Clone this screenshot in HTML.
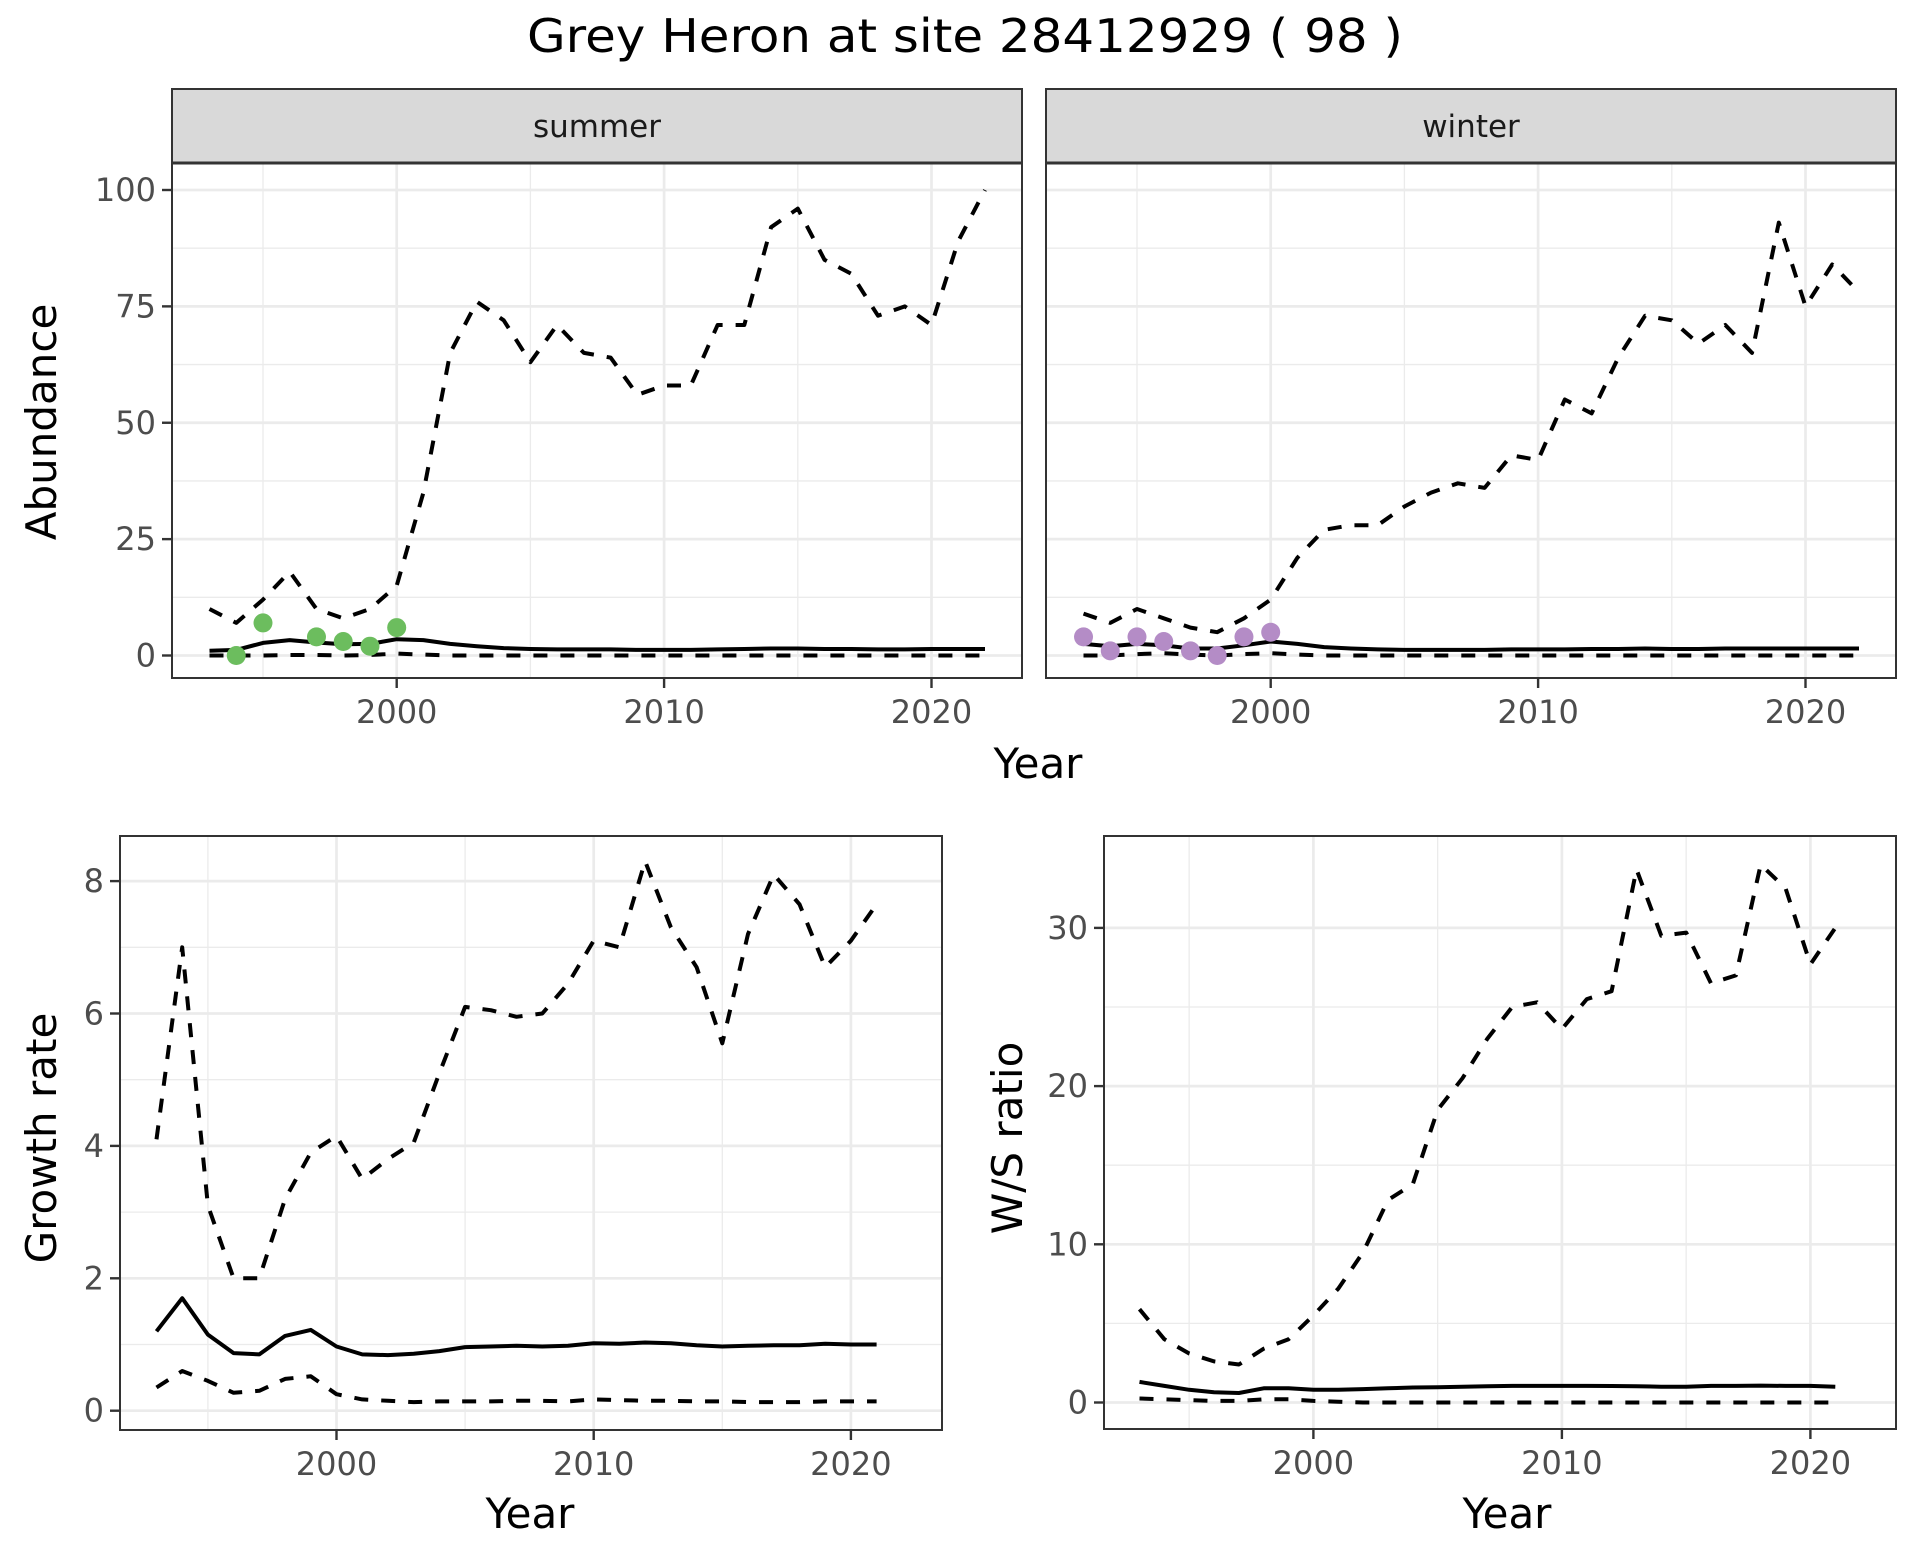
<!DOCTYPE html>
<html><head><meta charset="utf-8"><style>
html,body{margin:0;padding:0;background:#fff;}
svg{display:block;font-family:"DejaVu Sans","Liberation Sans",sans-serif;}
</style></head><body>
<svg id="chart" width="1920" height="1560" viewBox="0 0 1920 1560" xmlns="http://www.w3.org/2000/svg">
<rect x="0" y="0" width="1920" height="1560" fill="#fff"/>
<text x="965" y="52" font-size="46" text-anchor="middle" fill="#000" textLength="876" lengthAdjust="spacingAndGlyphs">Grey Heron at site 28412929 ( 98 )</text>
</svg>
<script>
// ---------- data ----------
const yearsAbund = [1993,1994,1995,1996,1997,1998,1999,2000,2001,2002,2003,2004,2005,2006,2007,2008,2009,2010,2011,2012,2013,2014,2015,2016,2017,2018,2019,2020,2021,2022];
const summerUpper = [10,7,12,18,10,8,10,15,35,65,76,72,63,71,65,64,56,58,58,71,71,92,96,85,82,73,75,71,89,100];
const summerMean = [1,1.2,2.7,3.3,2.8,2.4,2.5,3.5,3.3,2.5,2,1.6,1.4,1.3,1.3,1.3,1.2,1.2,1.2,1.3,1.4,1.5,1.5,1.4,1.4,1.3,1.3,1.4,1.4,1.4];
const summerLower = [0,0,0,0.1,0.1,0,0.1,0.4,0.2,0,0,0,0,0,0,0,0,0,0,0,0,0,0,0,0,0,0,0,0,0];
const summerObsYears = [1994,1995,1997,1998,1999,2000];
const summerObs = [0,7,4,3,2,6];
const winterUpper = [9,7,10,8,6,5,8,12,21,27,28,28,32,35,37,36,43,42,55,52,64,73,72,67,71,65,93,75,84,78];
const winterMean = [2.5,2,2.5,2.2,1.5,1.5,2.2,3,2.5,1.8,1.5,1.3,1.2,1.2,1.2,1.2,1.3,1.3,1.3,1.4,1.4,1.5,1.4,1.4,1.5,1.5,1.5,1.5,1.5,1.5];
const winterLower = [0,0,0.3,0.5,0.2,0,0.3,0.5,0.2,0,0,0,0,0,0,0,0,0,0,0,0,0,0,0,0,0,0,0,0,0];
const winterObsYears = [1993,1994,1995,1996,1997,1998,1999,2000];
const winterObs = [4,1,4,3,1,0,4,5];
const yearsRate = [1993,1994,1995,1996,1997,1998,1999,2000,2001,2002,2003,2004,2005,2006,2007,2008,2009,2010,2011,2012,2013,2014,2015,2016,2017,2018,2019,2020,2021];
const growthUpper = [4.1,7.0,3.1,2.0,2.0,3.2,3.9,4.15,3.5,3.8,4.05,5.1,6.1,6.05,5.95,6.0,6.45,7.1,7.0,8.3,7.3,6.7,5.55,7.2,8.1,7.65,6.7,7.1,7.65];
const growthMean = [1.2,1.7,1.15,0.87,0.85,1.13,1.22,0.97,0.85,0.84,0.86,0.9,0.96,0.97,0.98,0.97,0.98,1.02,1.01,1.03,1.02,0.99,0.97,0.98,0.99,0.99,1.01,1.0,1.0];
const growthLower = [0.35,0.6,0.45,0.27,0.3,0.48,0.52,0.25,0.17,0.15,0.13,0.14,0.14,0.14,0.15,0.15,0.14,0.17,0.16,0.15,0.15,0.14,0.14,0.13,0.13,0.13,0.14,0.14,0.14];
const ratioUpper = [5.9,4,3.1,2.6,2.4,3.4,4.0,5.5,7.2,9.5,12.8,13.8,18.5,20.5,23,25,25.3,23.6,25.5,26,33.7,29.5,29.7,26.5,27,34,32.5,27.7,30];
const ratioMean = [1.3,1.05,0.8,0.65,0.6,0.9,0.9,0.8,0.8,0.85,0.9,0.95,0.97,1.0,1.03,1.05,1.05,1.05,1.05,1.04,1.03,1.0,1.0,1.05,1.05,1.07,1.05,1.05,1.0];
const ratioLower = [0.25,0.2,0.15,0.1,0.1,0.2,0.2,0.1,0.05,0,0,0,0,0,0,0,0,0,0,0,0,0,0,0,0,0,0,0,0];
const xTicks = [2000,2010,2020];
const xMinor = [1995,2005,2015];
const abundTicks = [0,25,50,75,100];
const growthTicks = [0,2,4,6,8];
const ratioTicks = [0,10,20,30];

const svg = document.getElementById('chart');
const NS = 'http://www.w3.org/2000/svg';
function mk(tag, attrs, parent){ const e=document.createElementNS(NS,tag); for(const k in attrs) e.setAttribute(k,attrs[k]); (parent||svg).appendChild(e); return e; }

function panel(p){
  const g = mk('g',{});
  
  
  const X = v => p.x0 + (v - p.xv0) * p.xs;
  const Y = v => p.y0 - (v - p.yv0) * p.ys;
  mk('rect',{x:p.left,y:p.top,width:p.right-p.left,height:p.bottom-p.top,fill:'#fff'},g);
  p.yMinor.forEach(v=>{ mk('line',{x1:p.left,x2:p.right,y1:Y(v),y2:Y(v),stroke:'#ebebeb','stroke-width':1.3},g); });
  xMinor.forEach(v=>{ mk('line',{x1:X(v),x2:X(v),y1:p.top,y2:p.bottom,stroke:'#ebebeb','stroke-width':1.3},g); });
  p.yTicks.forEach(v=>{ mk('line',{x1:p.left,x2:p.right,y1:Y(v),y2:Y(v),stroke:'#ebebeb','stroke-width':2.7},g); });
  xTicks.forEach(v=>{ mk('line',{x1:X(v),x2:X(v),y1:p.top,y2:p.bottom,stroke:'#ebebeb','stroke-width':2.7},g); });
  const line=(xs,ys,dash,name)=>{
    const d = xs.map((x,i)=>(i?'L':'M')+X(x).toFixed(1)+','+Y(ys[i]).toFixed(1)).join(' ');
    const l = mk('path',{d:d,fill:'none',stroke:'#000','stroke-width':4,'stroke-dasharray':dash?'14 13':'none','stroke-linejoin':'round'},g);
    
    
  };
  line(p.years,p.upper,true,'upper-bound-line');
  line(p.years,p.lower,true,'lower-bound-line');
  line(p.years,p.mean,false,'mean-line');
  if(p.obsYears){
    p.obsYears.forEach((yr,i)=>{
      const c = mk('circle',{cx:X(yr),cy:Y(p.obs[i]),r:9.5,fill:p.color},g);
      
      
    });
  }
  mk('rect',{x:p.left,y:p.top,width:p.right-p.left,height:p.bottom-p.top,fill:'none',stroke:'#333','stroke-width':2},g);
  if(p.showY){
    p.yTicks.forEach(v=>{
      mk('line',{x1:p.left-10,x2:p.left,y1:Y(v),y2:Y(v),stroke:'#333','stroke-width':2.4},g);
      const t=mk('text',{x:p.left-16,y:Y(v)+11,'font-size':32,'text-anchor':'end',fill:'#4d4d4d'},g);
      t.textContent=v;
      
      
    });
  }
  xTicks.forEach(v=>{
    mk('line',{x1:X(v),x2:X(v),y1:p.bottom,y2:p.bottom+10,stroke:'#333','stroke-width':2.4},g);
    const t=mk('text',{x:X(v),y:p.bottom+45,'font-size':32,'text-anchor':'middle',fill:'#4d4d4d'},g);
    t.textContent=v;
    
    
  });
  if(p.strip){
    mk('rect',{x:p.left,y:89,width:p.right-p.left,height:p.top-89,fill:'#d9d9d9',stroke:'#333','stroke-width':2},g);
    mk('line',{x1:p.left,x2:p.right,y1:p.top,y2:p.top,stroke:'#333','stroke-width':3},g);
    const t=mk('text',{x:(p.left+p.right)/2,y:137,'font-size':31,'text-anchor':'middle',fill:'#1a1a1a'},g);
    t.textContent=p.strip;
    
    
  }
}

panel({name:'summer-panel',left:172,right:1022,top:163,bottom:678,x0:396.7,xv0:2000,xs:26.74,y0:655.5,yv0:0,ys:4.655,
  yTicks:abundTicks,yMinor:[12.5,37.5,62.5,87.5],years:yearsAbund,upper:summerUpper,mean:summerMean,lower:summerLower,
  obsYears:summerObsYears,obs:summerObs,color:'#6cbd5e',showY:true,strip:'summer'});
panel({name:'winter-panel',left:1046,right:1896,top:163,bottom:678,x0:1270.7,xv0:2000,xs:26.74,y0:655.5,yv0:0,ys:4.655,
  yTicks:abundTicks,yMinor:[12.5,37.5,62.5,87.5],years:yearsAbund,upper:winterUpper,mean:winterMean,lower:winterLower,
  obsYears:winterObsYears,obs:winterObs,color:'#b48cc6',showY:false,strip:'winter'});
panel({name:'growth-rate-panel',left:120,right:942,top:836,bottom:1430,x0:336.5,xv0:2000,xs:25.72,y0:1410.7,yv0:0,ys:66.2,
  yTicks:growthTicks,yMinor:[1,3,5,7],years:yearsRate,upper:growthUpper,mean:growthMean,lower:growthLower,showY:true});
panel({name:'ws-ratio-panel',left:1104,right:1896,top:836,bottom:1429,x0:1313.4,xv0:2000,xs:24.85,y0:1402.5,yv0:0,ys:15.82,
  yTicks:ratioTicks,yMinor:[5,15,25],years:yearsRate,upper:ratioUpper,mean:ratioMean,lower:ratioLower,showY:true});

function label(txt,x,y,rot,name){
  const t=mk('text',{x:x,y:y,'font-size':42,'text-anchor':'middle',fill:'#000',transform:rot?`rotate(-90 ${x} ${y})`:''});
  t.textContent=txt;
  
  
}
label('Year',1038,778,false,'top-x-axis-title');
label('Year',530,1528,false,'growth-x-axis-title');
label('Year',1507,1528,false,'ratio-x-axis-title');
label('Abundance',56,422,true,'abundance-y-axis-title');
label('Growth rate',56,1138,true,'growth-y-axis-title');
label('W/S ratio',1022,1138,true,'ratio-y-axis-title');
</script>
</body></html>
